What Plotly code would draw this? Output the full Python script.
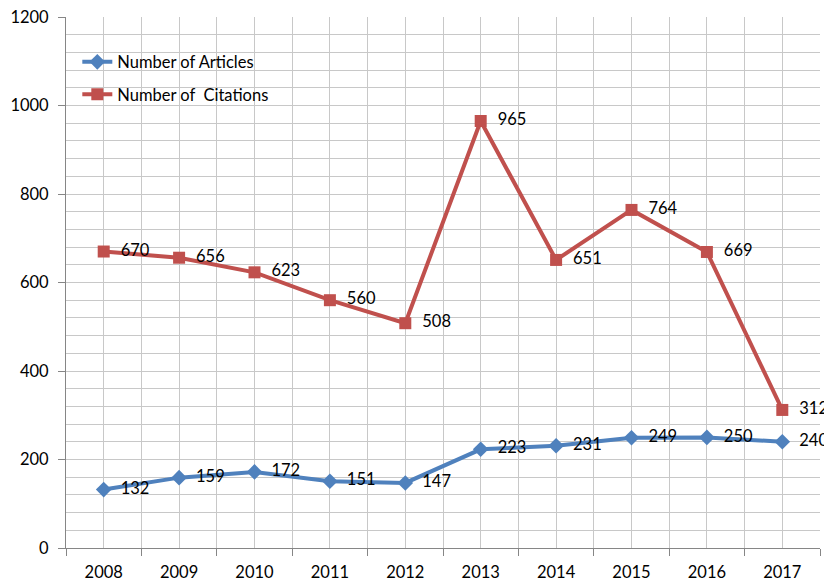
import plotly.graph_objects as go

years = ["2008", "2009", "2010", "2011", "2012", "2013", "2014", "2015", "2016", "2017"]
articles = [132, 159, 172, 151, 147, 223, 231, 249, 250, 240]
citations = [670, 656, 623, 560, 508, 965, 651, 764, 669, 312]

x = list(range(len(years)))
font_family = "Lato, Liberation Sans, sans-serif"
pad = "\u00a0\u00a0"

fig = go.Figure()
fig.add_trace(go.Scatter(
    x=x, y=articles, name="Number of Articles", mode="lines+markers+text",
    line=dict(color="#4F81BD", width=4),
    marker=dict(symbol="diamond", size=12, color="#4F81BD"),
    text=[pad + str(v) for v in articles], textposition="middle right",
    textfont=dict(size=16.5, color="#000000", family=font_family),
    cliponaxis=False, legendgroup="a",
))
fig.add_trace(go.Scatter(
    x=x, y=citations, name="Number of  Citations", mode="lines+markers+text",
    line=dict(color="#C0504D", width=4),
    marker=dict(symbol="square", size=12, color="#C0504D"),
    text=[pad + str(v) for v in citations], textposition="middle right",
    textfont=dict(size=16.5, color="#000000", family=font_family),
    cliponaxis=False, legendgroup="b",
))

fig.update_layout(
    width=824, height=580,
    margin=dict(l=66, r=4, t=17, b=32, autoexpand=False),
    paper_bgcolor="white", plot_bgcolor="white",
    font=dict(family=font_family, size=16.5, color="#000000"),
    legend=dict(x=0.015, y=0.948, xanchor="left", yanchor="top",
                bgcolor="rgba(0,0,0,0)", tracegroupgap=8,
                font=dict(size=16.5)),
    xaxis=dict(
        range=[-0.5, 9.5], tickvals=x, ticktext=years, ticks="",
        showgrid=True, gridcolor="#C8C8C8", gridwidth=1,
        showline=True, linecolor="#868686", linewidth=1,
        zeroline=False, ticklabelstandoff=9, automargin=False,
        ticklabeloverflow="allow",
        minor=dict(tickvals=[i - 0.5 for i in range(len(years) + 1)],
                   ticks="outside", ticklen=7, tickcolor="#868686",
                   showgrid=True, gridcolor="#C8C8C8", gridwidth=1),
    ),
    yaxis=dict(
        range=[0, 1200], dtick=200, ticks="outside", ticklen=7, tickcolor="#868686",
        showgrid=True, gridcolor="#C8C8C8", gridwidth=1,
        showline=True, linecolor="#868686", linewidth=1,
        zeroline=False, ticklabelstandoff=6, automargin=False,
        ticklabeloverflow="allow",
        minor=dict(dtick=40, showgrid=True, gridcolor="#C8C8C8", gridwidth=1),
    ),
)

fig.write_html(
    "out.html",
    config={"displayModeBar": False},
    post_script="document.body.style.margin='0';document.body.style.overflow='hidden';",
)
